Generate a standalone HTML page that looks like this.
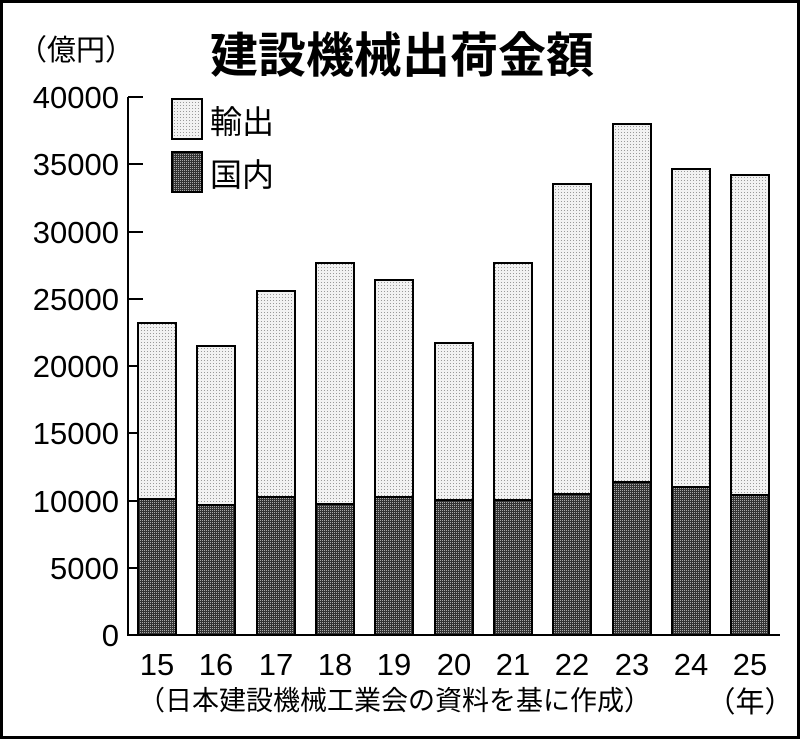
<!DOCTYPE html>
<html><head><meta charset="utf-8"><style>
html,body{margin:0;padding:0;background:#fff}
svg{display:block}
text{font-family:"Liberation Sans","Noto Sans CJK JP",sans-serif;fill:#000}
</style></head><body>
<svg width="800" height="739" viewBox="0 0 800 739" xmlns="http://www.w3.org/2000/svg">
<defs>
<pattern id="lt" width="3" height="3" patternUnits="userSpaceOnUse"><rect width="3" height="3" fill="#f2f2f2"/><rect width="1" height="1" fill="#9a9a9a"/></pattern>
<pattern id="dk" width="2" height="2" patternUnits="userSpaceOnUse"><rect width="2" height="2" fill="#333"/><rect width="1" height="1" fill="#aaa"/></pattern>
</defs>
<rect x="1.5" y="1.5" width="797" height="736" fill="#fff" stroke="#000" stroke-width="3"/>
<text x="18" y="60" font-size="29">（億円）</text>
<text x="402" y="72" font-size="48" font-weight="bold" text-anchor="middle">建設機械出荷金額</text>
<g font-size="31" text-anchor="end">
<text x="119" y="108">40000</text><text x="119" y="175">35000</text><text x="119" y="243">30000</text>
<text x="119" y="310">25000</text><text x="119" y="377">20000</text><text x="119" y="444">15000</text>
<text x="119" y="512">10000</text><text x="119" y="579">5000</text><text x="119" y="646">0</text>
</g>
<g stroke="#000" stroke-width="2">
<line x1="128" y1="97" x2="128" y2="635"/>
<line x1="127" y1="635" x2="780" y2="635"/>
<line x1="128" y1="97" x2="143" y2="97"/><line x1="128" y1="164" x2="143" y2="164"/>
<line x1="128" y1="232" x2="143" y2="232"/><line x1="128" y1="299" x2="143" y2="299"/>
<line x1="128" y1="366" x2="143" y2="366"/><line x1="128" y1="433" x2="143" y2="433"/>
<line x1="128" y1="501" x2="143" y2="501"/><line x1="128" y1="568" x2="143" y2="568"/>
</g>
<rect x="172" y="99" width="30" height="40" fill="url(#lt)" stroke="#000" stroke-width="2"/>
<rect x="172" y="152" width="30" height="40" fill="url(#dk)" stroke="#000" stroke-width="2"/>
<text x="210" y="133" font-size="32">輸出</text>
<text x="210" y="186" font-size="32">国内</text>
<g stroke="#000" stroke-width="2">
<rect x="138" y="323" width="38" height="176" fill="url(#lt)"/><rect x="138" y="499" width="38" height="136" fill="url(#dk)"/>
<rect x="197" y="346" width="38" height="159" fill="url(#lt)"/><rect x="197" y="505" width="38" height="130" fill="url(#dk)"/>
<rect x="257" y="291" width="38" height="206" fill="url(#lt)"/><rect x="257" y="497" width="38" height="138" fill="url(#dk)"/>
<rect x="316" y="263" width="38" height="241" fill="url(#lt)"/><rect x="316" y="504" width="38" height="131" fill="url(#dk)"/>
<rect x="375" y="280" width="38" height="217" fill="url(#lt)"/><rect x="375" y="497" width="38" height="138" fill="url(#dk)"/>
<rect x="435" y="343" width="38" height="157" fill="url(#lt)"/><rect x="435" y="500" width="38" height="135" fill="url(#dk)"/>
<rect x="494" y="263" width="38" height="237" fill="url(#lt)"/><rect x="494" y="500" width="38" height="135" fill="url(#dk)"/>
<rect x="553" y="184" width="38" height="310" fill="url(#lt)"/><rect x="553" y="494" width="38" height="141" fill="url(#dk)"/>
<rect x="613" y="124" width="38" height="358" fill="url(#lt)"/><rect x="613" y="482" width="38" height="153" fill="url(#dk)"/>
<rect x="672" y="169" width="38" height="318" fill="url(#lt)"/><rect x="672" y="487" width="38" height="148" fill="url(#dk)"/>
<rect x="731" y="175" width="38" height="320" fill="url(#lt)"/><rect x="731" y="495" width="38" height="140" fill="url(#dk)"/>
</g>
<g font-size="31" text-anchor="middle">
<text x="157" y="675">15</text><text x="216" y="675">16</text><text x="276" y="675">17</text>
<text x="335" y="675">18</text><text x="394" y="675">19</text><text x="454" y="675">20</text>
<text x="513" y="675">21</text><text x="572" y="675">22</text><text x="632" y="675">23</text>
<text x="691" y="675">24</text><text x="750" y="675">25</text>
</g>
<text x="138" y="710" font-size="27">（日本建設機械工業会の資料を基に作成）</text>
<text x="750" y="712" font-size="29" text-anchor="middle">（年）</text>
</svg>
</body></html>
